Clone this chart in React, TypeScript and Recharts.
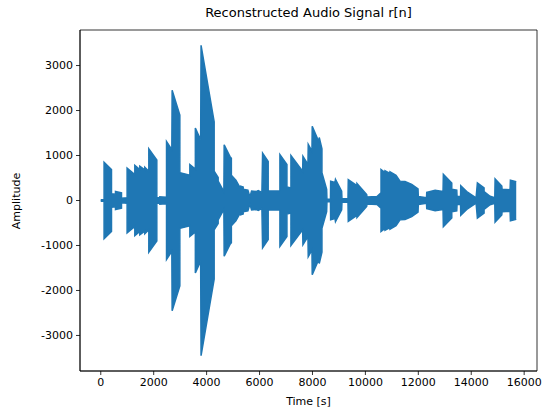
import { ComposedChart, Area, XAxis, YAxis, ReferenceArea } from 'recharts'

// envelope of r[n]: sample index and peak amplitude
const envTime = [
  0, 125, 125, 405, 405, 556, 556, 783, 783, 995, 995, 1286, 1286, 1475, 1475, 1664, 1664, 1815, 1815, 2118,
  2118, 2231, 2231, 2485, 2485, 2685, 2697, 2988, 2988, 3366, 3366, 3574, 3574, 3774, 3790, 4285, 4285, 4436,
  4436, 4652, 4663, 4879, 4935, 4935, 5106, 5257, 5283, 5382, 5382, 5560, 5635, 5699, 5889, 5949, 6089, 6115,
  6327, 6327, 6770, 6770, 7035, 7035, 7186, 7186, 7628, 7640, 7829, 7840, 7980, 7991, 8245, 8256, 8358, 8358,
  8536, 8547, 8680, 8687, 8850, 8869, 9103, 9115, 9342, 9353, 9682, 9682, 10049, 10060, 10438, 10590, 10590,
  10741, 10741, 10930, 10930, 11157, 11308, 11497, 11751, 11989, 12000, 12310, 12318, 12632, 12934, 12946,
  13264, 13264, 13453, 13464, 13596, 13604, 13831, 13956, 14183, 14232, 14485, 14485, 14712, 14890, 14901,
  15155, 15166, 15468, 15480, 15700,
]
const envAmp = [
  15, 15, 850, 690, 150, 140, 200, 170, 50, 60, 720, 575, 780, 690, 760, 680, 740, 650, 1150, 900,
  60, 60, 80, 70, 1310, 1130, 2450, 1900, 620, 560, 800, 700, 1610, 1350, 3450, 1750, 650, 510,
  430, 200, 1240, 980, 940, 560, 450, 290, 320, 300, 250, 230, 80, 210, 200, 220, 180, 1055,
  870, 210, 210, 1020, 800, 300, 280, 1000, 650, 980, 800, 1250, 1100, 1650, 1300, 1400, 1150, 620,
  250, 30, 30, 430, 400, 470, 205, 40, 40, 465, 330, 380, 133, 80, 90, 170, 690,
  620, 660, 600, 640, 560, 430, 420, 360, 260, 90, 60, 180, 230, 200, 580,
  390, 250, 230, 90, 90, 330, 200, 150, 60, 390, 280, 200, 95, 60, 480,
  320, 250, 240, 450, 420,
]

const xTicks = [0, 2000, 4000, 6000, 8000, 10000, 12000, 14000, 16000]
const yTicks = [-3000, -2000, -1000, 0, 1000, 2000, 3000]

const data = envTime.map((t, i) => ({ t, range: [-envAmp[i], envAmp[i]] }))

const font = '"DejaVu Sans", sans-serif'
const tickStyle = { fontSize: 11, fill: '#000', fontFamily: font }

export default function App() {
  return (
    <div style={{ position: 'absolute', left: 0, top: 0, width: 545, height: 413, background: '#fff', fontFamily: font }}>
      <ComposedChart width={545} height={413} data={data} margin={{ top: 30, right: 8, left: 0, bottom: 0 }}>
        <XAxis
          type="number"
          dataKey="t"
          domain={[-785, 16485]}
          ticks={xTicks}
          allowDataOverflow
          height={42}
          tick={tickStyle}
          tickSize={4}
          tickMargin={3}
          stroke="#000"
          strokeWidth={0.8}
        />
        <YAxis
          type="number"
          domain={[-3790, 3790]}
          ticks={yTicks}
          allowDataOverflow
          width={80}
          tick={tickStyle}
          tickSize={4}
          tickMargin={3}
          stroke="#000"
          strokeWidth={0.8}
        />
        <Area
          type="linear"
          dataKey="range"
          stroke="#1f77b4"
          strokeWidth={1.5}
          fill="#1f77b4"
          fillOpacity={1}
          isAnimationActive={false}
          dot={false}
          activeDot={false}
        />
        <ReferenceArea x1={-785} x2={16485} y1={-3790} y2={3790} fill="none" stroke="#000" strokeWidth={0.8} />
      </ComposedChart>
      <div style={{ position: 'absolute', left: 80, width: 457, top: 4, textAlign: 'center', fontSize: 13, lineHeight: '17px', color: '#000' }}>
        Reconstructed Audio Signal r[n]
      </div>
      <div style={{ position: 'absolute', left: 80, width: 457, top: 394, textAlign: 'center', fontSize: 11, lineHeight: '15px', color: '#000' }}>
        Time [s]
      </div>
      <div
        style={{
          position: 'absolute',
          left: 16,
          top: 201,
          transform: 'translate(-50%, -50%) rotate(-90deg)',
          fontSize: 11,
          lineHeight: '15px',
          color: '#000',
          whiteSpace: 'nowrap',
        }}
      >
        Amplitude
      </div>
    </div>
  )
}
